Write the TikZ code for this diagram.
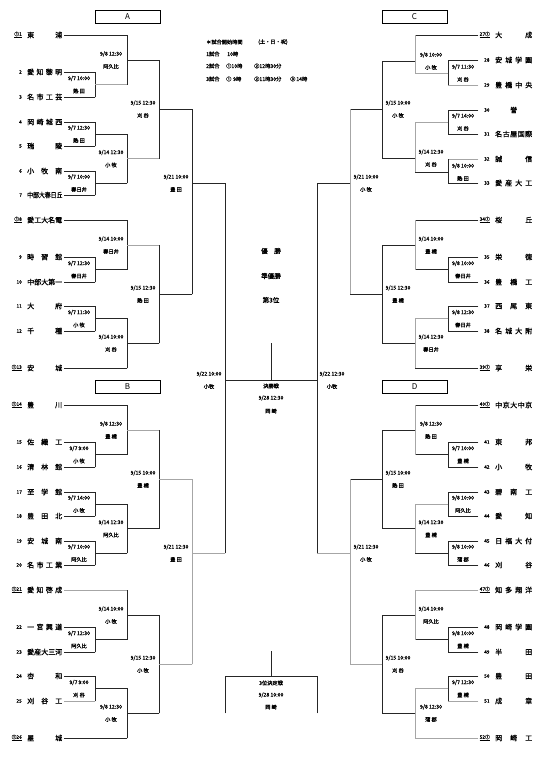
\documentclass[tikz,border=0pt]{standalone}
\usepackage{fontspec}
\setmainfont{Noto Sans CJK JP}
\newfontfamily\jb{Noto Sans CJK JP}[FakeBold=1.2]
\usepackage{graphicx}
\newcommand\hf{\hfill}
\newcommand\mt[8]{%
 \coordinate (#1) at (#4,#5);
 \draw[#6] (#2) -- (#2 -| #1);
 \draw[#7] (#3) -- (#3 -| #1);
 \draw[#8] (#2 -| #1) -- (#3 -| #1);
}
\newcommand\lb[4]{%
 \node[lab, xshift=#2, yshift=6pt] (#1d) at (#1) {#3};
 \node[lab, xshift=#2, yshift=-6.5pt] (#1v) at (#1) {#4};
}
\newcommand\teamL[4]{%
 \coordinate (T#1) at (64,#2);
 \node[tno, anchor=east] (n#1) at (22,#2) {#3};
 \node[tnm] (N#1) at (27,#2) {\makebox[35pt][s]{#4}};
}
\newcommand\teamR[4]{%
 \coordinate (T#1) at (478,#2);
 \node[tno, anchor=west] (n#1) at (484,#2) {#3};
 \node[tnm] (N#1) at (495,#2) {\makebox[37pt][s]{#4}};
}
\newcommand\seedR[4]{%
 \coordinate (T#1) at (478,#2);
 \node[tno, anchor=west] (n#1) at (479.5,#2) {\underline{#3}};
 \node[tnm] (N#1) at (495,#2) {\makebox[37pt][s]{#4}};
}
\begin{document}
\begin{tikzpicture}[x=1pt,y=-1pt,
 ln/.style={line width=0.75pt, black!85, line cap=rect},
 gl/.style={line width=0.75pt, black!35, line cap=rect},
 lab/.style={font=\jb\fontsize{5.2}{6}\selectfont, inner sep=0pt},
 tnm/.style={font=\jb\fontsize{7}{8}\selectfont, inner sep=0pt, anchor=west},
 tno/.style={font=\jb\fontsize{4.8}{6}\selectfont, inner sep=0pt},
 hd/.style={font=\jb\fontsize{5.2}{6}\selectfont, inner sep=0pt, anchor=west},
 blk/.style={draw, line width=0.75pt, minimum width=65pt, minimum height=13pt, inner sep=0pt, font=\fontsize{8}{9}\selectfont},
 ctr/.style={font=\jb\fontsize{6.5}{8}\selectfont, inner sep=0pt}]
\useasboundingbox (0,0) rectangle (545,761);

% block headers
\node[blk] (boxA) at (127.5,16.5) {\rmfamily A};
\node[blk] (boxB) at (127.5,386.5) {\rmfamily B};
\node[blk] (boxC) at (414.5,16.5) {C};
\node[blk] (boxD) at (414.5,386.5) {D};

% header notes
\node[hd] (h0) at (206,42) {＊試合開始時間};
\node[hd] (h0b) at (258,42) {(土・日・祝)};
\node[hd] (h1) at (206,54) {1試合};
\node[hd] (h1b) at (227,54) {10時};
\node[hd] (h2) at (206,66) {2試合};
\node[hd] (h2b) at (226,66) {①10時};
\node[hd] (h2c) at (254,66) {②12時30分};
\node[hd] (h3) at (206,79) {3試合};
\node[hd] (h3b) at (226,79) {①\,\,9時};
\node[hd] (h3c) at (254,79) {②11時30分};
\node[hd] (h3d) at (290,79) {③\,14時};

% ---------- teams A ----------
\teamL{1}{35}{\underline{①1}}{東\hf 浦}
\teamL{2}{72}{2}{愛\hf 知\hf 黎\hf 明}
\teamL{3}{97}{3}{名\hf 市\hf 工\hf 芸}
\teamL{4}{122}{4}{岡\hf 崎\hf 城\hf 西}
\teamL{5}{146}{5}{瑞\hf 陵}
\teamL{6}{171}{6}{小\hf 牧\hf 南}
\teamL{7}{195}{7}{\scalebox{0.84}[1]{中部大春日丘}}
\teamL{8}{220}{\underline{①8}}{愛\hf 工\hf 大\hf 名\hf 電}
\teamL{9}{257}{9}{時\hf 習\hf 館}
\teamL{10}{282}{10}{中\hf 部\hf 大\hf 第\hf 一}
\teamL{11}{306}{11}{大\hf 府}
\teamL{12}{331}{12}{千\hf 種}
\teamL{13}{368}{\underline{①13}}{安\hf 城}
% ---------- teams B ----------
\teamL{14}{405}{\underline{①14}}{豊\hf 川}
\teamL{15}{442}{15}{佐\hf 織\hf 工}
\teamL{16}{467}{16}{清\hf 林\hf 館}
\teamL{17}{492}{17}{至\hf 学\hf 館}
\teamL{18}{516}{18}{豊\hf 田\hf 北}
\teamL{19}{541}{19}{安\hf 城\hf 南}
\teamL{20}{565}{20}{名\hf 市\hf 工\hf 業}
\teamL{21}{590}{\underline{①21}}{愛\hf 知\hf 啓\hf 成}
\teamL{22}{627}{22}{一\hf 宮\hf 興\hf 道}
\teamL{23}{652}{23}{愛\hf 産\hf 大\hf 三\hf 河}
\teamL{24}{676}{24}{杏\hf 和}
\teamL{25}{701}{25}{刈\hf 谷\hf 工}
\teamL{26}{738}{\underline{①26}}{星\hf 城}
% ---------- teams C ----------
\seedR{27}{35}{27①}{大\hf 成}
\teamR{28}{60}{28}{安\hf 城\hf 学\hf 園}
\teamR{29}{85}{29}{豊\hf 橋\hf 中\hf 央}
\teamR{30}{110}{30}{\hf 誉\hf}
\teamR{31}{134}{31}{名\hf 古\hf 屋\hf 国\hf 際}
\teamR{32}{159}{32}{誠\hf 信}
\teamR{33}{183}{33}{愛\hf 産\hf 大\hf 工}
\seedR{34}{220}{34①}{桜\hf 丘}
\teamR{35}{257}{35}{栄\hf 徳}
\teamR{36}{282}{36}{豊\hf 橋\hf 工}
\teamR{37}{306}{37}{西\hf 尾\hf 東}
\teamR{38}{331}{38}{名\hf 城\hf 大\hf 附}
\seedR{39}{368}{39①}{享\hf 栄}
% ---------- teams D ----------
\seedR{40}{405}{40①}{中\hf 京\hf 大\hf 中\hf 京}
\teamR{41}{442}{41}{東\hf 邦}
\teamR{42}{467}{42}{小\hf 牧}
\teamR{43}{492}{43}{碧\hf 南\hf 工}
\teamR{44}{516}{44}{愛\hf 知}
\teamR{45}{541}{45}{日\hf 福\hf 大\hf 付}
\teamR{46}{565}{46}{刈\hf 谷}
\seedR{47}{590}{47①}{知\hf 多\hf 翔\hf 洋}
\teamR{48}{627}{48}{岡\hf 崎\hf 学\hf 園}
\teamR{49}{652}{49}{半\hf 田}
\teamR{50}{676}{50}{豊\hf 田}
\teamR{51}{701}{51}{成\hf 章}
\seedR{52}{738}{52①}{岡\hf 崎\hf 工}

% ---------- bracket A ----------
\mt{a23}{T2}{T3}{95}{84.5}{ln}{ln}{ln}
\mt{a45}{T4}{T5}{95}{134}{ln}{ln}{ln}
\mt{a67}{T6}{T7}{95}{183}{ln}{ln}{ln}
\mt{a1}{T1}{a23}{127}{60}{ln}{gl}{ln}
\mt{a47}{a45}{a67}{127}{158.5}{ln}{ln}{ln}
\mt{aQ1}{a1}{a47}{159}{109}{ln}{gl}{ln}
\mt{a910}{T9}{T10}{95}{269.5}{ln}{ln}{ln}
\mt{a1112}{T11}{T12}{95}{318.5}{ln}{ln}{ln}
\mt{a8}{T8}{a910}{127}{245}{ln}{ln}{ln}
\mt{a13}{a1112}{T13}{127}{343}{ln}{ln}{ln}
\mt{aQ2}{a8}{a13}{159}{294}{gl}{ln}{ln}
\mt{aS}{aQ1}{aQ2}{192}{183}{ln}{ln}{ln}
% ---------- bracket B ----------
\mt{b1516}{T15}{T16}{95}{454.5}{ln}{ln}{ln}
\mt{b1718}{T17}{T18}{95}{504}{ln}{ln}{ln}
\mt{b1920}{T19}{T20}{95}{553}{ln}{ln}{ln}
\mt{b14}{T14}{b1516}{127}{430}{ln}{ln}{ln}
\mt{b1720}{b1718}{b1920}{127}{528.5}{ln}{ln}{ln}
\mt{bQ1}{b14}{b1720}{159}{479}{gl}{ln}{ln}
\mt{b2223}{T22}{T23}{95}{639.5}{ln}{ln}{ln}
\mt{b2425}{T24}{T25}{95}{688.5}{ln}{gl}{ln}
\mt{b21}{T21}{b2223}{127}{615}{gl}{ln}{ln}
\mt{b26}{b2425}{T26}{127}{713}{ln}{ln}{ln}
\mt{bQ2}{b21}{b26}{159}{664}{ln}{ln}{ln}
\mt{bS}{bQ1}{bQ2}{192}{553}{gl}{gl}{gl}
\mt{semiL}{aS}{bS}{225}{380}{ln}{gl}{ln}
% ---------- bracket C ----------
\mt{c2829}{T28}{T29}{448}{73}{ln}{gl}{ln}
\mt{c27}{T27}{c2829}{415}{61}{ln}{gl}{gl}
\mt{c3031}{T30}{T31}{448}{122}{ln}{ln}{ln}
\mt{c3233}{T32}{T33}{448}{172}{gl}{ln}{ln}
\mt{c3033}{c3031}{c3233}{415}{158}{gl}{ln}{gl}
\mt{cQ1}{c27}{c3033}{382}{109}{ln}{ln}{ln}
\mt{c3536}{T35}{T36}{448}{269.5}{ln}{ln}{ln}
\mt{c34}{T34}{c3536}{415}{245}{ln}{ln}{gl}
\mt{c3738}{T37}{T38}{448}{318.5}{ln}{ln}{ln}
\mt{c39}{c3738}{T39}{415}{343}{gl}{ln}{gl}
\mt{cQ2}{c34}{c39}{382}{294}{ln}{ln}{ln}
\mt{cS}{cQ1}{cQ2}{350}{183}{ln}{ln}{gl}
% ---------- bracket D ----------
\mt{d4142}{T41}{T42}{448}{454.5}{ln}{ln}{ln}
\mt{d40}{T40}{d4142}{415}{430}{ln}{ln}{gl}
\mt{d4344}{T43}{T44}{448}{504}{ln}{ln}{ln}
\mt{d4546}{T45}{T46}{448}{553}{ln}{ln}{ln}
\mt{d4346}{d4344}{d4546}{415}{528.5}{gl}{ln}{gl}
\mt{dQ1}{d40}{d4346}{382}{479}{ln}{ln}{ln}
\mt{d4849}{T48}{T49}{448}{639.5}{ln}{ln}{ln}
\mt{d47}{T47}{d4849}{415}{615}{gl}{ln}{gl}
\mt{d5051}{T50}{T51}{448}{688.5}{ln}{gl}{ln}
\mt{d52}{d5051}{T52}{415}{713}{gl}{gl}{gl}
\mt{dQ2}{d47}{d52}{382}{664}{ln}{ln}{ln}
\mt{dS}{dQ1}{dQ2}{350}{553}{ln}{gl}{gl}
\mt{semiR}{cS}{dS}{317}{380}{ln}{gl}{ln}
% final
\draw[ln] (semiL) -- (semiR);
\coordinate (fin) at (271,380);
\coordinate (champ) at (271,343);
\draw[ln] (champ) -- (fin);

% ---------- labels A ----------
\lb{a23}{-16pt}{9/7 10:00}{熱 田}
\lb{a45}{-16pt}{9/7 12:30}{熱 田}
\lb{a67}{-16pt}{9/7 10:00}{春日井}
\lb{a910}{-16pt}{9/7 12:30}{春日井}
\lb{a1112}{-16pt}{9/7 11:30}{小 牧}
\lb{a1}{-16pt}{9/8 12:30}{阿久比}
\lb{a47}{-16pt}{9/14 12:30}{小 牧}
\lb{a8}{-16pt}{9/14 10:00}{春日井}
\lb{a13}{-16pt}{9/14 10:00}{刈 谷}
\lb{aQ1}{-16pt}{9/15 12:30}{刈 谷}
\lb{aQ2}{-16pt}{9/15 12:30}{熱 田}
\lb{aS}{-16pt}{9/21 10:00}{豊 田}
% labels B
\lb{b1516}{-16pt}{9/7 9:00}{小 牧}
\lb{b1718}{-16pt}{9/7 14:00}{小 牧}
\lb{b1920}{-16pt}{9/7 10:00}{阿久比}
\lb{b2223}{-16pt}{9/7 12:30}{阿久比}
\lb{b2425}{-16pt}{9/7 9:00}{刈 谷}
\lb{b14}{-16pt}{9/8 12:30}{豊 橋}
\lb{b1720}{-16pt}{9/14 12:30}{阿久比}
\lb{b21}{-16pt}{9/14 10:00}{小 牧}
\lb{b26}{-16pt}{9/8 12:30}{小 牧}
\lb{bQ1}{-16pt}{9/15 10:00}{豊 橋}
\lb{bQ2}{-16pt}{9/15 12:30}{小 牧}
\lb{bS}{-16pt}{9/21 12:30}{豊 田}
\lb{semiL}{-16pt}{9/22 10:00}{小牧}
% labels C
\lb{c2829}{15pt}{9/7 11:30}{刈 谷}
\lb{c3031}{15pt}{9/7 14:00}{刈 谷}
\lb{c3233}{15pt}{9/8 10:00}{熱 田}
\lb{c3536}{15pt}{9/8 10:00}{春日井}
\lb{c3738}{15pt}{9/8 12:30}{春日井}
\lb{c27}{16pt}{9/8 10:00}{小 牧}
\lb{c3033}{16pt}{9/14 12:30}{刈 谷}
\lb{c34}{16pt}{9/14 10:00}{豊 橋}
\lb{c39}{16pt}{9/14 12:30}{春日井}
\lb{cQ1}{16pt}{9/15 10:00}{小 牧}
\lb{cQ2}{16pt}{9/15 12:30}{豊 橋}
\lb{cS}{16pt}{9/21 10:00}{小 牧}
% labels D
\lb{d4142}{15pt}{9/7 10:00}{豊 橋}
\lb{d4344}{15pt}{9/8 10:00}{阿久比}
\lb{d4546}{15pt}{9/8 10:00}{蒲 郡}
\lb{d4849}{15pt}{9/8 10:00}{豊 橋}
\lb{d5051}{15pt}{9/7 12:30}{豊 橋}
\lb{d40}{16pt}{9/8 12:30}{熱 田}
\lb{d4346}{16pt}{9/14 12:30}{豊 橋}
\lb{d47}{16pt}{9/14 10:00}{阿久比}
\lb{d52}{16pt}{9/8 12:30}{蒲 郡}
\lb{dQ1}{16pt}{9/15 10:00}{熱 田}
\lb{dQ2}{16pt}{9/15 10:00}{刈 谷}
\lb{dS}{16pt}{9/21 12:30}{小 牧}
\lb{semiR}{15pt}{9/22 12:30}{小牧}

% centre texts
\node[ctr] (win1) at (271,251) {優\quad 勝};
\node[ctr] (win2) at (271,276) {準優勝};
\node[ctr] (win3) at (271,300) {第3位};
\node[lab] (fl1) at (271,386) {決勝戦};
\node[lab] (fl2) at (271,398) {9/28 12:30};
\node[lab] (fl3) at (271,411) {岡 崎};

% third place
\coordinate (t3top) at (271,651);
\coordinate (b3tl) at (225,676);
\coordinate (b3tr) at (317,676);
\coordinate (b3bl) at (225,713);
\coordinate (b3br) at (317,713);
\coordinate (b3tm) at (271,676);
\draw[ln] (t3top) -- (b3tm);
\draw[ln] (b3bl) -- (b3tl) -- (b3tr) -- (b3br);
\node[lab] (tp1) at (271,683) {3位決定戦};
\node[lab] (tp2) at (271,695) {9/28 10:00};
\node[lab] (tp3) at (271,707) {岡 崎};
\end{tikzpicture}
\end{document}
